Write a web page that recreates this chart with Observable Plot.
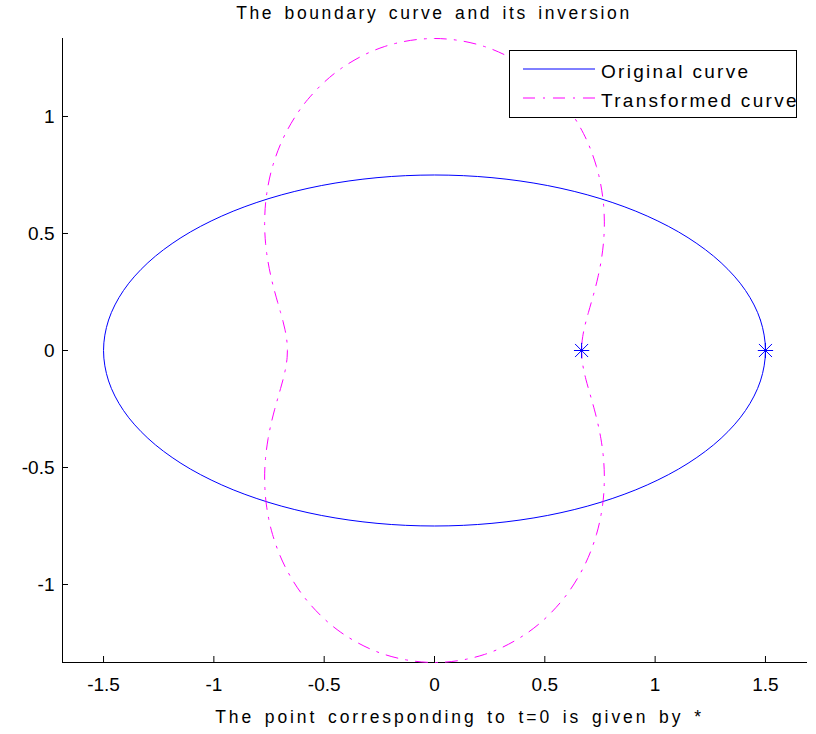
<!DOCTYPE html>
<html>
<head>
<meta charset="utf-8">
<script src="https://cdn.jsdelivr.net/npm/d3@7"></script>
<script src="https://cdn.jsdelivr.net/npm/@observablehq/plot@0.6"></script>
<style>
  body { margin: 0; background: #fff; font-family: "Liberation Sans", Arial, sans-serif; }
  #wrap { position: relative; width: 816px; height: 734px; background: #fff; }
  #title { margin-left: 62px; width: 744px; height: 24px; padding-top: 4px; line-height: 19px; text-align: center;
           font-size: 17.5px; letter-spacing: 2.6px; word-spacing: 3px; color: #000; }
  #legend { position: absolute; left: 509px; top: 50px; overflow: visible; }
</style>
</head>
<body>
<div id="wrap">
  <div id="title">The boundary curve and its inversion</div>
  <div id="chart"></div>
  <svg id="legend" width="310" height="72"></svg>
</div>
<script>
// ---- data ----
const titleText = "The boundary curve and its inversion";
const xLabelText = "The point corresponding to t=0 is given by *";
const seriesNames = ["Original curve", "Transformed curve"];

const xLimits = [-1.686, 1.686];
const yLimits = [-1.3333, 1.3333];
const xTicks = [-1.5, -1, -0.5, 0, 0.5, 1, 1.5];
const yTicks = [-1, -0.5, 0, 0.5, 1];

// Original curve (ellipse) points
const origX = [1.5,1.4772,1.4095,1.2990,1.1491,0.9642,0.75,0.5130,0.2605,0,-0.2605,-0.5130,-0.75,-0.9642,-1.1491,-1.2990,-1.4095,-1.4772,
  -1.5,-1.4772,-1.4095,-1.2990,-1.1491,-0.9642,-0.75,-0.5130,-0.2605,0,0.2605,0.5130,0.75,0.9642,1.1491,1.2990,1.4095,1.4772];
const origY = [0,0.1302,0.2565,0.375,0.4821,0.5745,0.6495,0.7048,0.7386,0.75,0.7386,0.7048,0.6495,0.5745,0.4821,0.375,0.2565,0.1302,
  0,-0.1302,-0.2565,-0.375,-0.4821,-0.5745,-0.6495,-0.7048,-0.7386,-0.75,-0.7386,-0.7048,-0.6495,-0.5745,-0.4821,-0.375,-0.2565,-0.1302];

// Transformed curve (inversion) points
const transX = [0.6667,0.6679,0.6717,0.6780,0.6867,0.6977,0.7106,0.7250,0.7400,0.7542,0.7654,0.7698,0.7619,0.7338,0.6751,0.5747,0.4247,0.2273,0,
  -0.2273,-0.4247,-0.5747,-0.6751,-0.7338,-0.7619,-0.7698,-0.7654,-0.7542,-0.7400,-0.7250,-0.7106,-0.6977,-0.6867,-0.6780,-0.6717,-0.6679,-0.6667,
  -0.6679,-0.6717,-0.6780,-0.6867,-0.6977,-0.7106,-0.7250,-0.7400,-0.7542,-0.7654,-0.7698,-0.7619,-0.7338,-0.6751,-0.5747,-0.4247,-0.2273,0,
  0.2273,0.4247,0.5747,0.6751,0.7338,0.7619,0.7698,0.7654,0.7542,0.7400,0.7250,0.7106,0.6977,0.6867,0.6780,0.6717,0.6679];
const transY = [0,0.0292,0.0592,0.0908,0.1250,0.1627,0.2051,0.2538,0.3105,0.3771,0.4561,0.5497,0.6598,0.7868,0.9275,1.0724,1.2042,1.2987,1.3333,
  1.2987,1.2042,1.0724,0.9275,0.7868,0.6598,0.5497,0.4561,0.3771,0.3105,0.2538,0.2051,0.1627,0.1250,0.0908,0.0592,0.0292,0,
  -0.0292,-0.0592,-0.0908,-0.1250,-0.1627,-0.2051,-0.2538,-0.3105,-0.3771,-0.4561,-0.5497,-0.6598,-0.7868,-0.9275,-1.0724,-1.2042,-1.2987,-1.3333,
  -1.2987,-1.2042,-1.0724,-0.9275,-0.7868,-0.6598,-0.5497,-0.4561,-0.3771,-0.3105,-0.2538,-0.2051,-0.1627,-0.1250,-0.0908,-0.0592,-0.0292];

// t = 0 points (marked with *)
const starX = [0.6667, 1.5];
const starY = [0, 0];

const colors = ["#0000ff", "#ff00ff"];
const dashPattern = "12,8,2,8";

// ---- build tables ----
const orig = origX.map((x, i) => ({x, y: origY[i]}));
const trans = transX.map((x, i) => ({x, y: transY[i]}));
const stars = starX.map((x, i) => ({x, y: starY[i]}));

const font = "'Liberation Sans', Arial, sans-serif";

const plot = Plot.plot({
  width: 816,
  height: 706,
  marginTop: 10,
  marginBottom: 72,
  marginLeft: 62,
  marginRight: 10,
  x: {domain: xLimits},
  y: {domain: yLimits},
  style: {fontFamily: font, fontSize: "19px", color: "#000", background: "#fff", overflow: "visible"},
  marks: [
    Plot.frame({anchor: "left", stroke: "#000"}),
    Plot.frame({anchor: "bottom", stroke: "#000"}),
    Plot.axisX({ticks: xTicks, tickSize: 0, tickPadding: 15, tickFormat: d => String(d), label: null}),
    Plot.axisX({ticks: xTicks, tickSize: 6, dy: -6, tickFormat: () => "", label: null}),
    Plot.axisY({ticks: yTicks, tickSize: 0, tickPadding: 8, tickFormat: d => String(d), label: null}),
    Plot.axisY({ticks: yTicks, tickSize: 6, dx: 6, tickFormat: () => "", label: null}),
    Plot.line(orig, {x: "x", y: "y", curve: "catmull-rom-closed", stroke: colors[0], strokeWidth: 1}),
    Plot.line(trans, {x: "x", y: "y", curve: "catmull-rom-closed", stroke: colors[1], strokeWidth: 1, strokeDasharray: dashPattern}),
    Plot.dot(stars, {x: "x", y: "y", symbol: "plus", r: 5, stroke: colors[0], strokeWidth: 1}),
    Plot.dot(stars, {x: "x", y: "y", symbol: "times", r: 6, stroke: colors[0], strokeWidth: 1}),
    Plot.text([xLabelText], {text: d => d, frameAnchor: "bottom", lineAnchor: "top", dy: 48, dx: 25, fontSize: 17.5, fill: "#000"})
  ]
});
plot.querySelectorAll('g[aria-label="text"] text').forEach(t => { t.style.letterSpacing = "2.9px"; t.style.wordSpacing = "3px"; });
document.getElementById("chart").appendChild(plot);

// ---- legend ----
const lg = d3.select("#legend");
lg.append("rect").attr("x", 0.5).attr("y", 0.5).attr("width", 287).attr("height", 67)
  .attr("fill", "#fff").attr("stroke", "#000").attr("stroke-width", 1);
seriesNames.forEach((name, i) => {
  const yy = 19 + i * 29;
  lg.append("line").attr("x1", 14).attr("x2", 86).attr("y1", yy).attr("y2", yy)
    .attr("stroke", colors[i]).attr("stroke-width", 1)
    .attr("stroke-dasharray", i === 1 ? dashPattern : null);
  lg.append("text").attr("x", 92).attr("y", yy + 9).text(name)
    .attr("font-family", font).attr("font-size", 19).attr("fill", "#000")
    .style("letter-spacing", "2.3px");
});
</script>
</body>
</html>
